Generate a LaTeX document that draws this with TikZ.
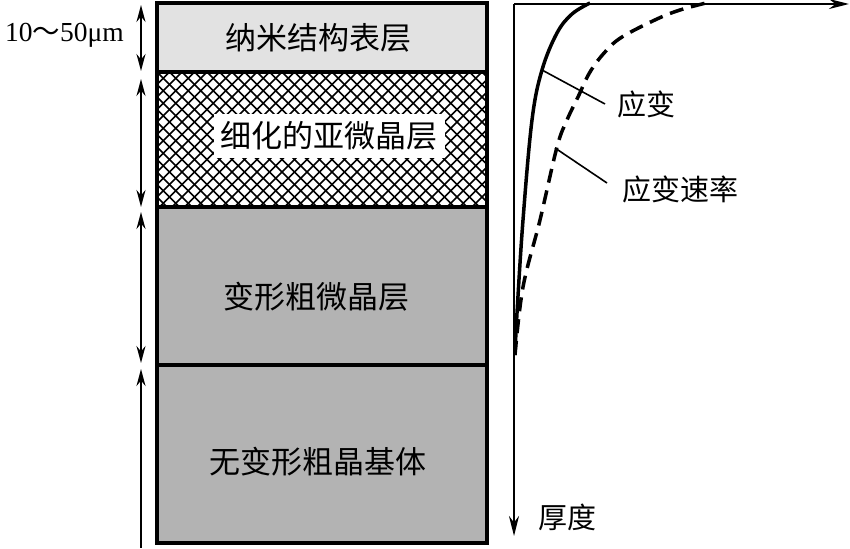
\documentclass[tikz,border=0pt]{standalone}
\usepackage{fontspec}
\setmainfont{Liberation Serif}
\newfontfamily\cjk{Noto Sans CJK SC}
\usetikzlibrary{arrows.meta}
\definecolor{lightlayer}{RGB}{226,226,226}
\definecolor{darklayer}{RGB}{179,179,179}
\begin{document}
\begin{tikzpicture}[x=1pt,y=-1pt,
  dimline/.style={line width=1.8pt,{Stealth[length=17pt,width=9pt]}-{Stealth[length=17pt,width=9pt]}},
  dimhalf/.style={line width=1.8pt,{Stealth[length=17pt,width=9pt]}-},
  frame/.style={line width=4pt},
  hatchline/.style={line width=1.6pt},
  layerlabel/.style={font=\cjk\fontsize{31}{36}\selectfont,inner sep=0pt},
  curvelabel/.style={font=\cjk\fontsize{29}{34}\selectfont,inner sep=0pt,anchor=west},
  axisline/.style={line width=2.4pt,-{Stealth[length=20pt,width=10pt]}},
  curve/.style={line width=3.5pt},
  leader/.style={line width=1.6pt}]
\useasboundingbox (0,0) rectangle (850,548);
% layer fills
\fill[lightlayer] (157,3) rectangle (487,72);
\fill[white] (157,72) rectangle (487,207);
\fill[darklayer] (157,207) rectangle (487,543);
% hatching
\begin{scope}
  \clip (157,72) rectangle (487,207);
  \foreach \i in {-14,...,42} {
    \draw[hatchline] ({157+12.5*\i},72) -- ({157+12.5*\i+135},207);
    \draw[hatchline] ({157+12.5*\i},72) -- ({157+12.5*\i-135},207);
  }
\end{scope}
% frame
\draw[frame] (157,3) rectangle (487,543);
\draw[frame] (157,72) -- (487,72);
\draw[frame] (157,207) -- (487,207);
\draw[frame] (157,365) -- (487,365);
% labels
\node[layerlabel] (t1) at (318,38) {纳米结构表层};
\node[layerlabel,fill=white,inner xsep=7pt,inner ysep=8pt] (t2) at (329,136) {细化的亚微晶层};
\node[layerlabel] (t3) at (316,297) {变形粗微晶层};
\node[layerlabel] (t4) at (318,462) {无变形粗晶基体};
% dimension line
\coordinate (d1a) at (141,5);
\coordinate (d1b) at (141,71);
\coordinate (d2a) at (141,79);
\coordinate (d2b) at (141,207);
\coordinate (d3a) at (141,212);
\coordinate (d3b) at (141,363);
\coordinate (d4a) at (141,369);
\coordinate (d4b) at (141,548);
\draw[dimline] (d1a) -- (d1b);
\draw[dimline] (d2a) -- (d2b);
\draw[dimline] (d3a) -- (d3b);
\draw[dimhalf] (d4a) -- (d4b);
\node[inner sep=0pt,anchor=east,font=\fontsize{27.5}{32}\selectfont] (thick) at (124,35) {10{\cjk ～}50μm};
% axes
\coordinate (origin) at (514,4);
\coordinate (xend) at (849,4);
\coordinate (yend) at (514,536);
\draw[axisline] (origin) -- (xend);
\draw[axisline] (origin) -- (yend);
% curves
\draw[curve] plot[smooth,tension=0.6] coordinates {(515,355) (517,313) (523,220) (532,120) (542,70) (557,33) (572,14) (590,3)};
\draw[curve,dash pattern=on 14pt off 8pt] plot[smooth,tension=0.6] coordinates {(515,355) (523,287) (540,220) (557,147) (567,120) (578,97) (590,72) (605,52) (622,37) (657,19) (680,10) (706,3)};
% curve labels
\coordinate (s1) at (542,70);
\coordinate (s2) at (555,148);
\node[curvelabel] (strain) at (617,104) {应变};
\node[curvelabel] (rate) at (622,189) {应变速率};
\node[curvelabel] (depth) at (538,517) {厚度};
\draw[leader] (s1) -- ([xshift=-12pt]strain.west);
\draw[leader] (s2) -- ([xshift=-15pt,yshift=6pt]rate.west);
\end{tikzpicture}
\end{document}
